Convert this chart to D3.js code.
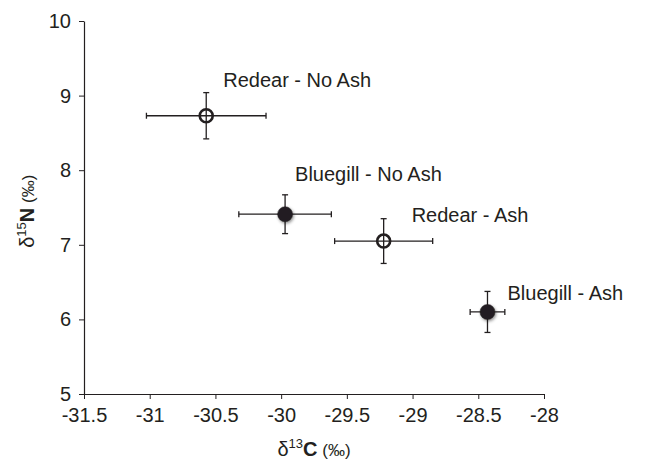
<!DOCTYPE html>
<html>
<head>
<meta charset="utf-8">
<script src="https://cdn.jsdelivr.net/npm/d3@7"></script>
<style>
  body { margin: 0; background: #fff; }
  text { font-family: "Liberation Sans", Arial, sans-serif; fill: #231f20; }
</style>
</head>
<body>
<script>
// values
let groups = ['Redear - No Ash', 'Bluegill - No Ash', 'Redear - Ash', 'Bluegill - Ash']
let species = ['Redear', 'Bluegill', 'Redear', 'Bluegill']
let d13C = [-30.57, -29.97, -29.22, -28.43]
let d13C_err = [0.455, 0.352, 0.373, 0.132]
let d15N = [8.73, 7.41, 7.05, 6.10]
let d15N_err = [0.31, 0.26, 0.30, 0.275]
let xTicks = [-31.5, -31, -30.5, -30, -29.5, -29, -28.5, -28]
let yTicks = [5, 6, 7, 8, 9, 10]

let data = groups.map((g, i) => ({
    name: g, species: species[i],
    x: d13C[i], xe: d13C_err[i],
    y: d15N[i], ye: d15N_err[i]
}))

SVG_WIDTH = 646
SVG_HEIGHT = 462
INK = '#231f20'
FONT = 20
let margin = {top: 21, right: 102, bottom: 68, left: 84}
let innerW = SVG_WIDTH - margin.left - margin.right
let innerH = SVG_HEIGHT - margin.top - margin.bottom

// label offsets from each point, pixels
let labelOffset = [[17, -29], [10, -33], [28, -19], [20, -12]]

let svg = d3.select('body').append('svg')
            .attr('width', SVG_WIDTH)
            .attr('height', SVG_HEIGHT)

let defs = svg.append('defs')
let shadow = defs.append('filter').attr('id', 'shadow')
                .attr('x', '-50%').attr('y', '-50%').attr('width', '200%').attr('height', '200%')
shadow.append('feDropShadow')
    .attr('dx', 1).attr('dy', 1.5).attr('stdDeviation', 1.5)
    .attr('flood-color', '#000').attr('flood-opacity', 0.45)

let g = svg.append('g').attr('transform', `translate(${margin.left},${margin.top})`)

let x = d3.scaleLinear().domain([-31.5, -28]).range([0, innerW])
let y = d3.scaleLinear().domain([5, 10]).range([innerH, 0])

let xAxis = g.append('g')
    .attr('transform', `translate(0,${innerH})`)
    .call(d3.axisBottom(x).tickValues(xTicks).tickSize(5).tickPadding(9).tickSizeOuter(0))
let yAxis = g.append('g')
    .call(d3.axisLeft(y).tickValues(yTicks).tickFormat(d3.format('d')).tickSize(5).tickPadding(8).tickSizeOuter(0))

for (let ax of [xAxis, yAxis]) {
    ax.select('.domain').attr('stroke', INK).attr('stroke-width', 1.2)
    ax.selectAll('.tick line').attr('stroke', INK).attr('stroke-width', 1)
    ax.selectAll('.tick text').attr('fill', INK).style('font-size', FONT + 'px')
        .style('font-family', '"Liberation Sans", Arial, sans-serif')
}
// minus signs as plain hyphens like the original
xAxis.selectAll('.tick text').text(d => String(d))

// error bars
let CAP = 3
let bars = g.selectAll('.err').data(data).join('g').classed('err', true)
    .attr('stroke', INK).attr('stroke-width', 1.3)
bars.append('line')
    .attr('x1', d => x(d.x - d.xe)).attr('x2', d => x(d.x + d.xe))
    .attr('y1', d => y(d.y)).attr('y2', d => y(d.y))
bars.append('line')
    .attr('x1', d => x(d.x)).attr('x2', d => x(d.x))
    .attr('y1', d => y(d.y - d.ye)).attr('y2', d => y(d.y + d.ye))
bars.selectAll('.capx').data(d => [d.x - d.xe, d.x + d.xe].map(v => ({v, d}))).join('line')
    .attr('x1', c => x(c.v)).attr('x2', c => x(c.v))
    .attr('y1', c => y(c.d.y) - CAP).attr('y2', c => y(c.d.y) + CAP)
bars.selectAll('.capy').data(d => [d.y - d.ye, d.y + d.ye].map(v => ({v, d}))).join('line')
    .attr('y1', c => y(c.v)).attr('y2', c => y(c.v))
    .attr('x1', c => x(c.d.x) - CAP).attr('x2', c => x(c.d.x) + CAP)

// markers
g.selectAll('.pt').data(data).join('circle').classed('pt', true)
    .attr('cx', d => x(d.x)).attr('cy', d => y(d.y))
    .attr('r', d => d.species == 'Bluegill' ? 7.5 : 6.5)
    .attr('fill', d => d.species == 'Bluegill' ? INK : 'none')
    .attr('stroke', INK)
    .attr('stroke-width', d => d.species == 'Bluegill' ? 0.5 : 2.6)
    .attr('filter', d => d.species == 'Bluegill' ? 'url(#shadow)' : null)

// point labels
g.selectAll('.lbl').data(data).join('text').classed('lbl', true)
    .attr('x', (d, i) => x(d.x) + labelOffset[i][0])
    .attr('y', (d, i) => y(d.y) + labelOffset[i][1])
    .style('font-size', FONT + 'px')
    .text(d => d.name)

// axis titles
let xt = svg.append('text')
    .attr('x', margin.left + x(-29.75)).attr('y', 456)
    .attr('text-anchor', 'middle').style('font-size', FONT + 'px')
xt.append('tspan').text('δ')
xt.append('tspan').attr('dy', -8).style('font-size', '13px').text('13')
xt.append('tspan').attr('dy', 8).style('font-weight', 'bold').text('C')
xt.append('tspan').style('font-size', '17px').text(' (‰)')

let yt = svg.append('text')
    .attr('transform', `translate(34,${margin.top + y(7.45)}) rotate(-90)`)
    .attr('text-anchor', 'middle').style('font-size', FONT + 'px')
yt.append('tspan').text('δ')
yt.append('tspan').attr('dy', -8).style('font-size', '13px').text('15')
yt.append('tspan').attr('dy', 8).style('font-weight', 'bold').text('N')
yt.append('tspan').style('font-size', '17px').text(' (‰)')
</script>
</body>
</html>
